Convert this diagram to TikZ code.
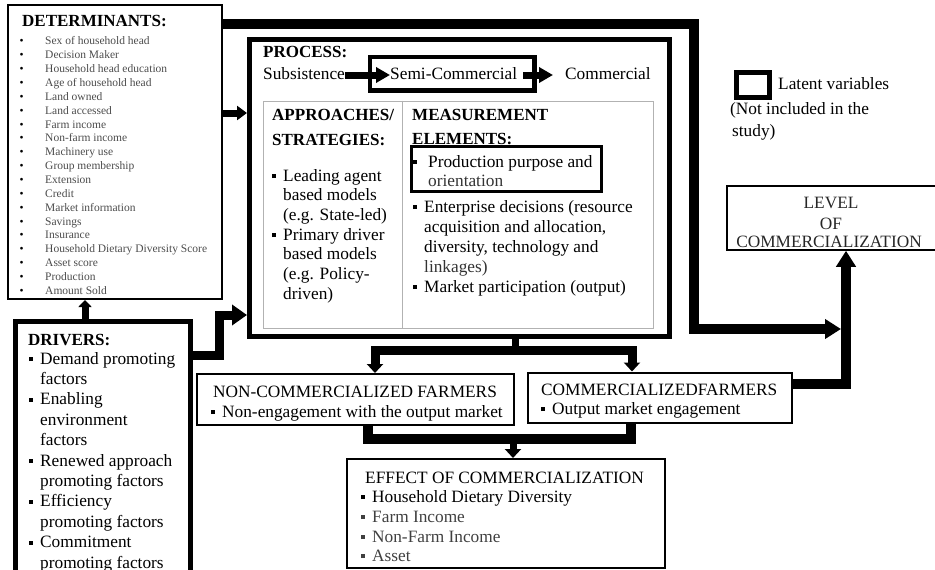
\documentclass[tikz,border=0pt]{standalone}
\usepackage{fontspec}
\setmainfont{Liberation Serif}
\usetikzlibrary{arrows.meta}
\newcommand\bul{\llap{\rule[3pt]{4pt}{4pt}\hspace{7pt}}}
\begin{document}
\begin{tikzpicture}[x=1pt,y=-1pt,
  box/.style={draw, rectangle, inner sep=0pt},
  txt/.style={inner sep=0pt, anchor=base west, font=\fontsize{17.3}{20}\selectfont},
  ctxt/.style={txt, anchor=base},
  btxt/.style={txt, font=\fontsize{17}{20}\selectfont\bfseries},
  stxt/.style={inner sep=0pt, anchor=base west, font=\fontsize{11.5}{13}\selectfont, text=black!70},
  conn/.style={line width=10pt},
  mconn/.style={line width=8pt},
  sconn/.style={line width=7pt},
  bigarr/.style={-{Triangle[length=16pt,width=19pt]}},
  medarr/.style={-{Triangle[length=15pt,width=20pt]}},
  downarr/.style={-{Triangle[length=9pt,width=16pt]}},
  smallarr/.style={-{Triangle[length=10pt,width=14pt]}},
  tinyarr/.style={-{Triangle[length=7pt,width=13pt]}},
  procarr/.style={-{Triangle[length=14pt,width=15pt]}}
]
\useasboundingbox (0,0) rectangle (935,570);

% ---------- boxes ----------
\node[box, line width=2pt, minimum width=213.5pt, minimum height=294.5pt] (det) at (114.75,151.75) {};
\node[box, line width=4.5pt, minimum width=175pt, minimum height=253.5pt] (drv) at (103,448.25) {};
\node[box, line width=5pt, minimum width=420pt, minimum height=296.5pt] (proc) at (459.5,187.75) {};
\node[box, line width=1pt, draw=black!30, minimum width=390.5pt, minimum height=227pt] (inner) at (458.25,214.5) {};
\draw[line width=1pt, black!30] (inner.north -| 402,0) -- (inner.south -| 402,0);
\node[box, line width=4.5pt, minimum width=164.5pt, minimum height=33.5pt] (semi) at (452.25,73.75) {};
\node[box, line width=2.5pt, minimum width=190pt, minimum height=45pt] (prod) at (506.5,169) {};
\node[box, line width=1.5pt, minimum width=209pt, minimum height=64pt] (lvl) at (831.5,218) {};
\node[box, line width=5pt, minimum width=33pt, minimum height=25pt] (legend) at (753,85) {};
\node[box, line width=2pt, minimum width=317pt, minimum height=51pt] (non) at (355.5,399.5) {};
\node[box, line width=2pt, minimum width=263.5pt, minimum height=50.5pt] (comm) at (659.75,397.75) {};
\node[box, line width=2pt, minimum width=318pt, minimum height=109pt] (eff) at (506,513.5) {};

% ---------- determinants ----------
\node[btxt] (dett) at (22,27) {DETERMINANTS:};
\foreach \t [count=\i] in {Sex of household head, Decision Maker, Household head education,
  Age of household head, Land owned, Land accessed, Farm income, Non-farm income,
  Machinery use, Group membership, Extension, Credit, Market information, Savings,
  Insurance, Household Dietary Diversity Score, Asset score, Production, Amount Sold}{
  \node[stxt, text=black] (db\i) at (19.5,{45+13.85*(\i-1)}) {•};
  \node[stxt] (di\i) at (45,{45+13.85*(\i-1)}) {\t};
}

% ---------- drivers ----------
\node[btxt] (drvt) at (28,345) {DRIVERS:};
\foreach \t [count=\i] in {{\bul Demand promoting}, {factors}, {\bul Enabling}, {environment}, {factors},
  {\bul Renewed approach}, {promoting factors}, {\bul Efficiency}, {promoting factors},
  {\bul Commitment}, {promoting factors}}{
  \node[txt] (dr\i) at (40,{364+20.4*(\i-1)}) {\t};
}

% ---------- process ----------
\node[btxt] (proct) at (263,57) {PROCESS:};
\node[txt] (subs) at (263,79) {Subsistence};
\node[txt] (semit) at (390,79) {Semi-Commercial};
\node[txt] (comt) at (565,79) {Commercial};
\draw[sconn, procarr] (subs.east |- 0,75) -- (semit.west |- 0,75);
\coordinate (semiout) at (523,75);
\draw[sconn, procarr] (semiout) -- ([xshift=-12pt]comt.west |- 0,75);

\node[btxt] (appa) at (272,120) {APPROACHES/};
\node[btxt] (appb) at (272,145) {STRATEGIES:};
\node[btxt] (mea) at (412,120) {MEASUREMENT};
\node[btxt] (meb) at (412,144) {ELEMENTS:};
\foreach \t [count=\i] in {{\bul Leading agent}, {based models}, {(e.g. State-led)},
  {\bul Primary driver}, {based models}, {(e.g. Policy-}, {driven)}}{
  \node[txt] (ap\i) at (283,{181+19.7*(\i-1)}) {\t};
}
\node[txt] (pr1) at (428,167) {\llap{\rule[3pt]{4pt}{4pt}\hspace{11pt}}Production purpose and};
\node[txt, text=black!80] (pr2) at (428,186) {orientation};
\node[txt] (me1) at (424,212) {\bul Enterprise decisions (resource};
\node[txt] (me2) at (424,232) {acquisition and allocation,};
\node[txt] (me3) at (424,252) {diversity, technology and};
\node[txt, text=black!80] (me4) at (424,272) {linkages)};
\node[txt] (me5) at (424,292) {\bul Market participation (output)};

% ---------- legend ----------
\node[txt] (lg1) at (778,89) {Latent variables};
\node[txt] (lg2) at (730,114) {(Not included in the};
\node[txt] (lg3) at (732,136) {study)};

% ---------- level ----------
\node[ctxt, text=black!85] (lv1) at (831,208) {LEVEL};
\node[ctxt, text=black!85] (lv2) at (831,229) {OF};
\node[ctxt, text=black!85] (lv3) at (829,247) {COMMERCIALIZATION};

% ---------- farmers ----------
\node[txt] (nt) at (213,397) {NON-COMMERCIALIZED FARMERS};
\node[txt] (ni) at (222,417) {\bul Non-engagement with the output market};
\node[txt] (ct) at (541,395) {COMMERCIALIZEDFARMERS};
\node[txt] (ci) at (552,414) {\bul Output market engagement};

% ---------- effect ----------
\node[txt] (et) at (365,483) {EFFECT OF COMMERCIALIZATION};
\node[txt] (e1) at (372,502) {\bul Household Dietary Diversity};
\node[txt, text=black!75] (e2) at (372,522) {\bul Farm Income};
\node[txt, text=black!75] (e3) at (372,542) {\bul Non-Farm Income};
\node[txt, text=black!75] (e4) at (372,561) {\bul Asset};

% ---------- connectors ----------
\coordinate (joint) at (841,329);
\draw[conn, bigarr] (det.east |- 0,24) -- (694,24) -- (694,329) -- (joint);
\draw[conn, bigarr] (comm.east |- 0,384) -- (846,384) -- (lvl.south -| 846,0);
\draw[line width=9pt, medarr] (drv.east |- 0,355) -- (219,355) -- (219,315) -- (proc.west |- 0,315);
\draw[sconn, smallarr] (det.east |- 0,113) -- (proc.west |- 0,113);
\draw[sconn, tinyarr] (drv.north -| 85,0) -- (det.south -| 85,0);

\draw[sconn] (proc.south -| 515,0) -- (515,350);
\draw[line width=9pt, downarr] (515,350) -| (non.north -| 375,0);
\draw[line width=9pt, downarr] (515,350) -| (comm.north -| 632,0);

\draw[line width=10pt] (non.south -| 368,0) -- (368,439) -- (631,439) -- (comm.south -| 631,0);
\draw[sconn, downarr] (513,439) -- (eff.north -| 513,0);
\end{tikzpicture}
\end{document}
